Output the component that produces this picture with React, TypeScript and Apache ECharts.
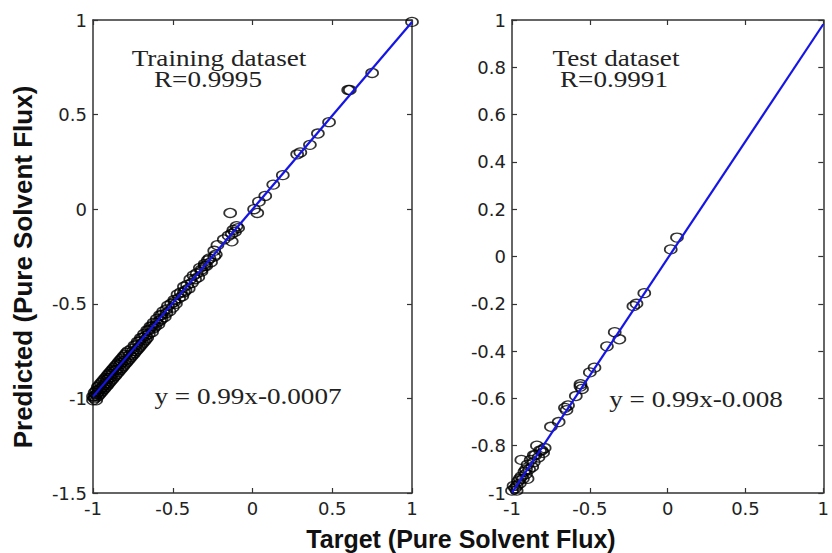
import React, { useEffect, useRef } from "react";
import * as echarts from "echarts";

// ---------- data ----------
const trainPoints: [number, number][] = [
  [1.0, 0.99], [0.75, 0.72], [0.6, 0.63], [0.61, 0.63], [0.48, 0.46], [0.41, 0.4],
  [0.36, 0.34], [0.3, 0.3], [0.28, 0.29], [0.19, 0.18], [0.13, 0.13], [0.08, 0.07],
  [0.04, 0.04], [0.03, -0.02], [0.01, 0.0], [-0.14, -0.02], [-0.1, -0.09], [-0.11, -0.12],
  [-0.12, -0.11], [-0.13, -0.13], [-0.09, -0.1], [-0.15, -0.14], [-0.13, -0.17], [-0.18, -0.16],
  [-0.22, -0.19], [-0.24, -0.25], [-0.28, -0.27], [-0.3, -0.3], [-0.32, -0.32],
  [-0.23, -0.24], [-0.24, -0.22], [-0.26, -0.28], [-0.27, -0.26], [-0.29, -0.3], [-0.3, -0.29],
  [-0.32, -0.33], [-0.33, -0.31], [-0.34, -0.36], [-0.35, -0.34], [-0.36, -0.37], [-0.37, -0.35],
  [-0.38, -0.39], [-0.39, -0.37], [-0.4, -0.42], [-0.41, -0.4], [-0.42, -0.43], [-0.43, -0.41],
  [-0.44, -0.46], [-0.45, -0.44], [-0.46, -0.47], [-0.47, -0.45], [-0.48, -0.5], [-0.49, -0.48],
  [-0.5, -0.52], [-0.51, -0.5], [-0.52, -0.54], [-0.53, -0.51], [-0.54, -0.55], [-0.55, -0.57],
  [-0.56, -0.54], [-0.57, -0.58], [-0.58, -0.59], [-0.58, -0.56], [-0.59, -0.61], [-0.6, -0.58],
  [-0.61, -0.62], [-0.62, -0.63], [-0.62, -0.6], [-0.63, -0.65], [-0.64, -0.62], [-0.65, -0.66],
  [-0.66, -0.68], [-0.66, -0.64], [-0.67, -0.69], [-0.68, -0.7], [-0.68, -0.66], [-0.69, -0.71],
  [-0.7, -0.72], [-0.7, -0.68], [-0.71, -0.73], [-0.72, -0.74], [-0.72, -0.7], [-0.73, -0.75],
  [-0.74, -0.76], [-0.74, -0.72], [-0.75, -0.77], [-0.76, -0.78], [-0.76, -0.74], [-0.77, -0.79],
  [-0.78, -0.8], [-0.78, -0.75], [-0.79, -0.81], [-0.79, -0.76], [-0.8, -0.82], [-0.8, -0.77],
  [-0.81, -0.83], [-0.81, -0.78], [-0.82, -0.84], [-0.82, -0.79], [-0.83, -0.85], [-0.83, -0.8],
  [-0.84, -0.86], [-0.84, -0.81], [-0.85, -0.87], [-0.85, -0.82], [-0.86, -0.88], [-0.86, -0.83],
  [-0.87, -0.89], [-0.87, -0.84], [-0.88, -0.9], [-0.88, -0.85], [-0.89, -0.91], [-0.89, -0.86],
  [-0.9, -0.92], [-0.9, -0.87], [-0.91, -0.93], [-0.91, -0.88], [-0.92, -0.94], [-0.92, -0.89],
  [-0.93, -0.95], [-0.93, -0.9], [-0.94, -0.96], [-0.94, -0.91], [-0.95, -0.97], [-0.95, -0.92],
  [-0.96, -0.98], [-0.96, -0.93], [-0.97, -0.99], [-0.97, -0.94], [-0.98, -1.01], [-0.98, -0.96],
  [-0.99, -1.0], [-0.99, -0.97], [-1.0, -0.99], [-1.0, -1.01],
  [-0.93, -0.93], [-0.88, -0.87], [-0.83, -0.82], [-0.77, -0.77], [-0.71, -0.7], [-0.65, -0.64],
  [-0.6, -0.6], [-0.54, -0.53], [-0.49, -0.49], [-0.43, -0.44], [-0.97, -0.97], [-0.91, -0.9],
  [-0.99, -0.99], [-0.98, -0.98], [-0.96, -0.95], [-0.95, -0.95], [-0.94, -0.94], [-0.92, -0.92],
  [-0.9, -0.89], [-0.89, -0.89], [-0.86, -0.85], [-0.85, -0.85], [-0.82, -0.81], [-0.8, -0.8],
  [-0.75, -0.75], [-0.73, -0.72], [-0.69, -0.68], [-0.67, -0.67], [-0.63, -0.62], [-0.57, -0.56],
];

const testPoints: [number, number][] = [
  [0.06, 0.08], [0.02, 0.03], [-0.15, -0.155], [-0.2, -0.2], [-0.22, -0.21], [-0.31, -0.35],
  [-0.34, -0.32], [-0.39, -0.38], [-0.47, -0.47], [-0.5, -0.49], [-0.56, -0.54], [-0.56, -0.55],
  [-0.55, -0.56], [-0.59, -0.59], [-0.64, -0.63], [-0.66, -0.64], [-0.65, -0.65], [-0.7, -0.7],
  [-0.75, -0.72], [-0.79, -0.81], [-0.8, -0.83], [-0.82, -0.82], [-0.83, -0.85], [-0.85, -0.84],
  [-0.86, -0.87], [-0.88, -0.86], [-0.87, -0.89], [-0.89, -0.9], [-0.9, -0.88], [-0.91, -0.92],
  [-0.92, -0.91], [-0.93, -0.94], [-0.94, -0.93], [-0.95, -0.96], [-0.96, -0.95], [-0.97, -0.97],
  [-0.98, -0.98], [-0.99, -0.97], [-1.0, -0.99], [-0.84, -0.8], [-0.9, -0.94], [-0.94, -0.86],
  [-0.81, -0.82], [-0.86, -0.84], [-0.91, -0.9], [-0.95, -0.94], [-0.97, -0.99],
];

const trainFit: [number, number][] = [[-1, -0.9907], [1, 0.9893]];
const testFit: [number, number][] = [[-1, -0.998], [1, 0.982]];

const trainTexts = ["Training dataset", "R=0.9995", "y = 0.99x-0.0007"];
const testTexts = ["Test dataset", "R=0.9991", "y = 0.99x-0.008"];
const yTitle = "Predicted (Pure Solvent Flux)";
const xTitle = "Target (Pure Solvent Flux)";

// ---------- styling ----------
const AXIS_COLOR = "#333";
const LABEL_FONT = "DejaVu Sans";
const SERIF = '"Liberation Serif", "Times New Roman", serif';
const SANS_BOLD = '"Liberation Sans", Arial, sans-serif';

function makeX(gridIndex: number, position: "bottom" | "top", showLabel: boolean) {
  return {
    type: "value",
    gridIndex,
    position,
    min: -1,
    max: 1,
    interval: 0.5,
    axisLine: { show: true, onZero: false, lineStyle: { color: AXIS_COLOR, width: 1.5 } },
    axisTick: { show: true, inside: true, length: 5, lineStyle: { color: AXIS_COLOR, width: 1.2 } },
    axisLabel: {
      show: showLabel,
      margin: 6,
      color: "#222",
      fontFamily: LABEL_FONT,
      fontSize: 18,
    },
    splitLine: { show: false },
  };
}

function makeY(
  gridIndex: number,
  position: "left" | "right",
  showLabel: boolean,
  min: number,
  max: number,
  interval: number
) {
  return {
    type: "value",
    gridIndex,
    position,
    min,
    max,
    interval,
    axisLine: { show: true, onZero: false, lineStyle: { color: AXIS_COLOR, width: 1.5 } },
    axisTick: { show: true, inside: true, length: 5, lineStyle: { color: AXIS_COLOR, width: 1.2 } },
    axisLabel: {
      show: showLabel,
      margin: 6,
      color: "#222",
      fontFamily: LABEL_FONT,
      fontSize: 18,
    },
    splitLine: { show: false },
  };
}

function serifText(text: string, x: number, y: number) {
  return {
    type: "text",
    x,
    y,
    scaleX: 1.18,
    z: 100,
    style: {
      text,
      font: `23px ${SERIF}`,
      fill: "#222",
      align: "center",
      verticalAlign: "middle",
      textAlign: "center",
      textVerticalAlign: "middle",
    },
  };
}

export default function App() {
  const ref = useRef<HTMLDivElement>(null);

  useEffect(() => {
    if (!ref.current) return;
    const chart = echarts.init(ref.current, undefined, { renderer: "svg" });

    const scatterStyle = {
      symbol: "circle",
      symbolSize: [12, 9],
      itemStyle: { color: "rgba(0,0,0,0)", borderColor: "#000", borderWidth: 1.5 },
    };

    const option: any = {
      animation: false,
      backgroundColor: "#fff",
      grid: [
        { left: 93, top: 20, width: 319, height: 473 },
        { left: 512, top: 20, width: 319, height: 473 },
      ],
      xAxis: [
        makeX(0, "bottom", true),
        makeX(0, "top", false),
        makeX(1, "bottom", true),
        makeX(1, "top", false),
      ],
      yAxis: [
        makeY(0, "left", true, -1.5, 1, 0.5),
        makeY(0, "right", false, -1.5, 1, 0.5),
        makeY(1, "left", true, -1, 1, 0.2),
        makeY(1, "right", false, -1, 1, 0.2),
      ],
      series: [
        {
          type: "scatter",
          xAxisIndex: 0,
          yAxisIndex: 0,
          data: trainPoints,
          ...scatterStyle,
          z: 2,
        },
        {
          type: "line",
          xAxisIndex: 0,
          yAxisIndex: 0,
          data: trainFit,
          showSymbol: false,
          symbol: "none",
          lineStyle: { color: "#1515e6", width: 2.2 },
          z: 3,
        },
        {
          type: "scatter",
          xAxisIndex: 2,
          yAxisIndex: 2,
          data: testPoints,
          ...scatterStyle,
          z: 2,
        },
        {
          type: "line",
          xAxisIndex: 2,
          yAxisIndex: 2,
          data: testFit,
          showSymbol: false,
          symbol: "none",
          lineStyle: { color: "#1515e6", width: 2.2 },
          z: 3,
        },
      ],
      graphic: [
        serifText(trainTexts[0], 219, 58),
        serifText(trainTexts[1], 208, 79),
        serifText(trainTexts[2], 248, 396),
        serifText(testTexts[0], 616, 58),
        serifText(testTexts[1], 614, 79),
        serifText(testTexts[2], 696, 399),
        {
          type: "text",
          x: 23,
          y: 267,
          rotation: Math.PI / 2,
          style: {
            text: yTitle,
            font: `bold 26px ${SANS_BOLD}`,
            fill: "#111",
            align: "center",
            verticalAlign: "middle",
            textAlign: "center",
            textVerticalAlign: "middle",
          },
        },
        {
          type: "text",
          x: 461,
          y: 539,
          style: {
            text: xTitle,
            font: `bold 25px ${SANS_BOLD}`,
            fill: "#111",
            align: "center",
            verticalAlign: "middle",
            textAlign: "center",
            textVerticalAlign: "middle",
          },
        },
      ],
    };

    chart.setOption(option);
    return () => chart.dispose();
  }, []);

  return (
    <div
      ref={ref}
      style={{ position: "absolute", left: 0, top: 0, width: 832, height: 553, background: "#fff" }}
    />
  );
}
